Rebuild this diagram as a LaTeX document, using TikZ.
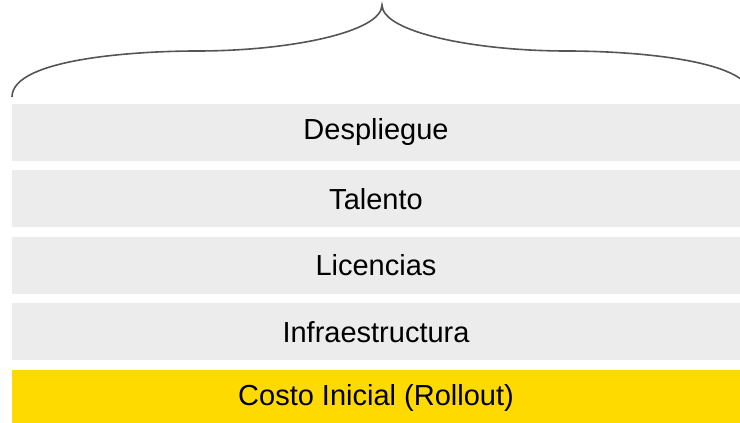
\documentclass[tikz,border=0pt]{standalone}
\usepackage{fontspec}
\setmainfont{Liberation Sans}
\usetikzlibrary{positioning}
\definecolor{capagris}{HTML}{ECECEC}
\definecolor{amarillo}{HTML}{FFDA00}
\definecolor{llave}{HTML}{555555}

\begin{document}
\begin{tikzpicture}[node distance=9pt,
		capa/.style={fill=capagris,minimum width=728pt,minimum height=57pt,inner sep=0pt,font=\fontsize{29}{32}\selectfont},
		base/.style={capa,fill=amarillo}]
		\useasboundingbox (0pt,0pt) rectangle (740pt,-423pt);
		\node[capa]         (D)    at (376pt,-132.5pt)  {Despliegue};
		\node[capa]         (T)    [below=of D]         {Talento};
		\node[capa]         (L)    [below=of T]         {Licencias};
		\node[capa]         (I)    [below=of L]         {Infraestructura};
		\node[base]         (C)    [below=of I]         {Costo Inicial (Rollout)};
		\draw[llave,line width=1.6pt]
		      (12pt,-97pt) .. controls (12pt,-58pt) and (140pt,-51pt) .. (197pt,-51pt)
		      .. controls (290pt,-51pt) and (382pt,-32pt) .. (382pt,-5pt)
		      .. controls (382pt,-32pt) and (474pt,-51pt) .. (567pt,-51pt)
		      .. controls (624pt,-51pt) and (752pt,-58pt) .. (752pt,-97pt);
		\end{tikzpicture}
\end{document}
